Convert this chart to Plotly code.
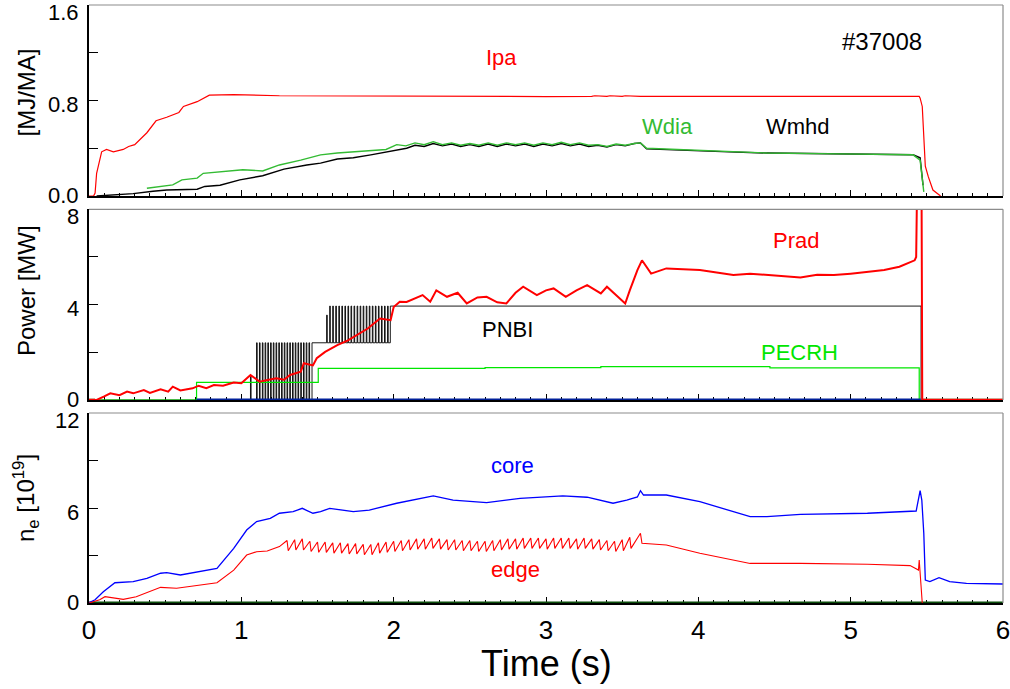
import plotly.graph_objects as go

FONT = "Liberation Sans, Arial, Helvetica, sans-serif"

# ---------------- Panel 1: Ipa [MA], Wdia / Wmhd [MJ] ----------------
ipa_t = [0.0, 0.03, 0.04, 0.05, 0.083, 0.115, 0.16, 0.225, 0.26, 0.30, 0.38, 0.44,
         0.51, 0.59, 0.62, 0.71, 0.79, 0.95, 1.25, 2.0, 3.0, 3.30, 3.32, 3.40, 3.42,
         3.50, 3.52, 3.62, 4.5, 5.0, 5.45, 5.456, 5.47, 5.49, 5.51, 5.54, 5.59]
ipa_v = [0.0, 0.0, 0.025, 0.19, 0.37, 0.39, 0.37, 0.39, 0.415, 0.43, 0.53, 0.63,
         0.66, 0.70, 0.75, 0.79, 0.845, 0.85, 0.84, 0.835, 0.833, 0.834, 0.840, 0.834, 0.840,
         0.834, 0.840, 0.835, 0.834, 0.834, 0.834, 0.82, 0.75, 0.25, 0.16, 0.05, 0.0]

wdia_t = [0.38, 0.45, 0.55, 0.61, 0.71, 0.75, 0.86, 1.01, 1.14, 1.25, 1.39, 1.52,
          1.63, 1.735, 1.85, 1.95, 2.02, 2.08, 2.14, 2.20, 2.26, 2.32, 2.38, 2.44,
          2.50, 2.56, 2.62, 2.68, 2.74, 2.80, 2.86, 2.92, 2.98, 3.04, 3.10, 3.16,
          3.22, 3.28, 3.34, 3.40, 3.46, 3.52, 3.58, 3.62, 3.66, 3.75, 4.00, 4.20,
          4.45, 4.80, 5.10, 5.41, 5.456, 5.48]
wdia_v = [0.065, 0.075, 0.093, 0.135, 0.15, 0.19, 0.205, 0.22, 0.21, 0.26, 0.30, 0.345,
          0.36, 0.37, 0.375, 0.39, 0.43, 0.42, 0.445, 0.43, 0.455, 0.43, 0.445, 0.425,
          0.44, 0.425, 0.445, 0.425, 0.445, 0.43, 0.445, 0.425, 0.445, 0.43, 0.45, 0.43,
          0.445, 0.425, 0.43, 0.415, 0.435, 0.425, 0.44, 0.445, 0.40, 0.395, 0.385, 0.375,
          0.36, 0.355, 0.35, 0.345, 0.30, 0.035]

wmhd_t = [0.05, 0.20, 0.29, 0.42, 0.51, 0.71, 0.76, 0.86, 0.99, 1.14, 1.28, 1.43,
          1.52, 1.63, 1.735, 1.85, 1.95, 2.085, 2.14, 2.20, 2.26, 2.32, 2.38, 2.44,
          2.50, 2.56, 2.62, 2.68, 2.74, 2.80, 2.86, 2.92, 2.98, 3.04, 3.10, 3.16,
          3.22, 3.28, 3.34, 3.40, 3.46, 3.52, 3.58, 3.62, 3.66, 3.75, 4.00, 4.20,
          4.45, 4.80, 5.10, 5.41, 5.456, 5.475]
wmhd_v = [0.0, 0.014, 0.02, 0.04, 0.05, 0.057, 0.08, 0.09, 0.135, 0.17, 0.225, 0.26,
          0.275, 0.31, 0.32, 0.345, 0.37, 0.40, 0.425, 0.415, 0.44, 0.42, 0.435, 0.415,
          0.43, 0.415, 0.435, 0.415, 0.435, 0.42, 0.435, 0.415, 0.435, 0.42, 0.44, 0.42,
          0.435, 0.415, 0.425, 0.41, 0.43, 0.42, 0.44, 0.445, 0.395, 0.39, 0.38, 0.37,
          0.36, 0.355, 0.35, 0.345, 0.32, 0.09]

# ---------------- Panel 2: Power [MW] ----------------
prad_t = [0.0, 0.05, 0.10, 0.14, 0.20, 0.25, 0.29, 0.36, 0.40, 0.47,
          0.52, 0.55, 0.60, 0.68, 0.72, 0.77, 0.82, 0.88, 0.95, 1.00,
          1.06, 1.12, 1.18, 1.23, 1.28, 1.32, 1.39, 1.41, 1.47, 1.495,
          1.55, 1.63, 1.70, 1.76, 1.83, 1.91, 1.98, 2.0, 2.04, 2.085,
          2.14, 2.19, 2.24, 2.28, 2.35, 2.42, 2.48, 2.55, 2.61, 2.68,
          2.74, 2.80, 2.85, 2.94, 3.00, 3.05, 3.13, 3.20, 3.27, 3.36,
          3.40, 3.46, 3.52, 3.55, 3.60, 3.63, 3.69, 3.79, 3.90, 4.01,
          4.12, 4.23, 4.34, 4.45, 4.56, 4.67, 4.78, 4.89, 5.00, 5.11,
          5.22, 5.32, 5.42, 5.43, 5.437, 5.465, 5.47, 6.0]
prad_v = [0.0, 0.0, 0.15, 0.28, 0.2, 0.35, 0.28, 0.42, 0.3, 0.45,
          0.35, 0.56, 0.4, 0.49, 0.6, 0.5, 0.63, 0.6, 0.73, 0.7,
          1.05, 0.77, 0.85, 0.91, 0.85, 1.05, 1.19, 1.54, 1.45, 1.75,
          2.02, 2.3, 2.5, 2.72, 3.0, 3.42, 3.35, 3.9, 4.12, 4.11,
          4.25, 4.4, 4.12, 4.6, 4.33, 4.5, 4.05, 4.3, 4.33, 4.1,
          4.05, 4.5, 4.75, 4.4, 4.6, 4.68, 4.33, 4.6, 4.82, 4.47,
          4.75, 4.4, 4.05, 4.6, 5.45, 5.86, 5.3, 5.52, 5.5, 5.45,
          5.35, 5.24, 5.3, 5.24, 5.2, 5.14, 5.25, 5.24, 5.3, 5.38,
          5.45, 5.59, 5.86, 6.0, 9.5, 9.5, 0.0, 0.0]

# NBI power (modulated), drawn as a step signal
pnbi_t = [0.0, 1.060, 1.064,
          1.100, 1.104, 1.119, 1.123, 1.138, 1.142, 1.156, 1.160, 1.174, 1.178,
          1.192, 1.196, 1.210, 1.214, 1.228, 1.232, 1.246, 1.250, 1.264, 1.268,
          1.282, 1.286, 1.300, 1.304, 1.318, 1.322, 1.336, 1.340, 1.354, 1.358,
          1.372, 1.376, 1.390, 1.394, 1.408, 1.412, 1.426, 1.430, 1.444, 1.448,
          1.464,
          1.560, 1.564,
          1.580, 1.584, 1.600, 1.604, 1.620, 1.624, 1.640, 1.644, 1.660, 1.664,
          1.680, 1.684, 1.700, 1.704, 1.720, 1.724, 1.740, 1.744, 1.760, 1.764,
          1.780, 1.784, 1.800, 1.804, 1.820, 1.824, 1.840, 1.844, 1.860, 1.864,
          1.880, 1.884, 1.900, 1.904, 1.920, 1.924, 1.940, 1.944, 1.960, 1.964,
          1.978, 5.462, 6.0]
pnbi_v = [0.0, 1.0, 0.0,
          2.4, 0.0, 2.4, 0.0, 2.4, 0.0, 2.4, 0.0, 2.4, 0.0,
          2.4, 0.0, 2.4, 0.0, 2.4, 0.0, 2.4, 0.0, 2.4, 0.0,
          2.4, 0.0, 2.4, 0.0, 2.4, 0.0, 2.4, 0.0, 2.4, 0.0,
          2.4, 0.0, 2.4, 0.0, 2.4, 0.0, 2.4, 0.0, 2.4, 0.0,
          2.4,
          3.56, 2.4,
          3.94, 2.4, 3.94, 2.4, 3.94, 2.4, 3.94, 2.4, 3.94, 2.4,
          3.94, 2.4, 3.94, 2.4, 3.94, 2.4, 3.94, 2.4, 3.94, 2.4,
          3.94, 2.4, 3.94, 2.4, 3.94, 2.4, 3.94, 2.4, 3.94, 2.4,
          3.94, 2.4, 3.94, 2.4, 3.94, 2.4, 3.94, 2.4, 3.94, 2.4,
          3.94, 0.0, 0.0]

pecrh_t = [0.04, 0.706, 1.505, 2.60, 3.36, 4.47, 5.45, 5.46]
pecrh_v = [0.0, 0.74, 1.33, 1.36, 1.40, 1.35, 0.0, 0.0]

zero_blue_t = [0.706, 5.46]
zero_blue_v = [0.0, 0.0]
zero_brown_t = [0.0, 0.04, None, 5.47, 6.0]
zero_brown_v = [0.0, 0.0, None, 0.0, 0.0]

# ---------------- Panel 3: n_e [10^19] ----------------
core_t = [0.0, 0.04, 0.094, 0.17, 0.29, 0.38, 0.47, 0.51, 0.60, 0.73,
          0.84, 0.95, 1.035, 1.10, 1.19, 1.25, 1.34, 1.40, 1.47, 1.52,
          1.58, 1.735, 1.84, 2.02, 2.17, 2.26, 2.39, 2.61, 2.83, 3.11,
          3.27, 3.44, 3.53, 3.60, 3.62, 3.64, 3.79, 4.01, 4.23, 4.34,
          4.45, 4.67, 5.11, 5.43, 5.456, 5.467, 5.48, 5.49, 5.52, 5.58,
          5.65, 5.76, 6.0]
core_v = [0.02, 0.2, 0.71, 1.28, 1.35, 1.56, 1.88, 1.92, 1.77, 1.98,
          2.19, 3.45, 4.61, 5.14, 5.35, 5.67, 5.77, 5.98, 5.67, 5.77,
          5.98, 5.77, 5.87, 6.3, 6.61, 6.76, 6.5, 6.34, 6.61, 6.76,
          6.68, 6.3, 6.5, 6.7, 7.09, 6.82, 6.82, 6.4, 5.77, 5.45,
          5.45, 5.6, 5.67, 5.81, 7.09, 6.5, 4.4, 1.45, 1.35, 1.6,
          1.35, 1.24, 1.2]

edge_t = [0.0, 0.07, 0.105, 0.14, 0.225, 0.31, 0.47, 0.575, 0.73, 0.84,
          0.95, 1.035, 1.10, 1.17, 1.25,
          1.300, 1.308, 1.350, 1.358, 1.400, 1.408, 1.450, 1.458, 1.500, 1.508,
          1.550, 1.558, 1.600, 1.608, 1.650, 1.658, 1.700, 1.708, 1.750, 1.758,
          1.800, 1.808, 1.850, 1.858, 1.900, 1.908, 1.950, 1.958, 2.000, 2.008,
          2.050, 2.058, 2.100, 2.108, 2.150, 2.158, 2.200, 2.208, 2.250, 2.258,
          2.300, 2.308, 2.350, 2.358, 2.400, 2.408, 2.450, 2.458, 2.500, 2.508,
          2.550, 2.558, 2.600, 2.608, 2.650, 2.658, 2.700, 2.708, 2.750, 2.758,
          2.800, 2.808, 2.850, 2.858, 2.900, 2.908, 2.950, 2.958, 3.000, 3.008,
          3.050, 3.058, 3.100, 3.108, 3.150, 3.158, 3.200, 3.208, 3.250, 3.258,
          3.300, 3.308, 3.350, 3.358, 3.400, 3.408, 3.450, 3.458, 3.500, 3.508,
          3.550, 3.558, 3.620, 3.630,
          3.79, 4.01, 4.23, 4.34, 4.67, 5.11, 5.39, 5.445, 5.45, 5.46, 5.47]
edge_v = [0.0, 0.2, 0.4, 0.36, 0.23, 0.4, 0.99, 0.93, 1.14, 1.28,
          2.08, 3.03, 3.24, 3.28, 3.56,
          3.95, 3.30, 4.00, 3.35, 4.05, 3.35, 3.90, 3.25, 3.85, 3.20,
          3.85, 3.20, 3.80, 3.15, 3.80, 3.15, 3.75, 3.10, 3.75, 3.10,
          3.70, 3.05, 3.70, 3.05, 3.80, 3.15, 3.85, 3.20, 3.90, 3.25,
          3.95, 3.30, 4.00, 3.35, 4.05, 3.40, 4.05, 3.40, 4.10, 3.45,
          4.05, 3.40, 4.00, 3.35, 4.00, 3.35, 3.95, 3.30, 3.95, 3.30,
          3.90, 3.25, 3.90, 3.25, 3.95, 3.30, 4.00, 3.35, 4.05, 3.40,
          4.05, 3.40, 4.10, 3.45, 4.10, 3.45, 4.10, 3.45, 4.05, 3.40,
          4.10, 3.45, 4.10, 3.45, 4.10, 3.45, 4.05, 3.40, 4.10, 3.45,
          4.05, 3.40, 4.00, 3.35, 3.95, 3.30, 3.90, 3.25, 4.00, 3.30,
          4.15, 3.45, 4.40, 3.77,
          3.66, 3.14, 2.72, 2.50, 2.50, 2.45, 2.36, 2.08, 2.72, 1.24, 0.0]

zero_green_t = [0.0, 6.0]
zero_green_v = [0.0, 0.0]

# ---------------- axis ticks / labels ----------------
x_ticks = [0, 1, 2, 3, 4, 5, 6]
y1_ticks = [0, 0.4, 0.8, 1.2, 1.6]
y1_labels = {0: "0.0", 0.8: "0.8", 1.6: "1.6"}
y2_ticks = [0, 2, 4, 6, 8]
y2_labels = {0: "0", 4: "4", 8: "8"}
y3_ticks = [0, 3, 6, 9, 12]
y3_labels = {0: "0", 6: "6", 12: "12"}

RED = "#ff0000"
GREEN_W = "#33bb33"
GREEN_E = "#00e600"
BLUE = "#0000ff"

fig = go.Figure()


def add(x, y, color, width, xa, ya, shape="linear"):
    fig.add_trace(go.Scatter(x=x, y=y, mode="lines",
                             line=dict(color=color, width=width, shape=shape),
                             xaxis=xa, yaxis=ya, showlegend=False,
                             hoverinfo="skip", connectgaps=False))


# panel 1
add(ipa_t, ipa_v, RED, 1.2, "x", "y")
add(wmhd_t, wmhd_v, "black", 1.4, "x", "y")
add(wdia_t, wdia_v, GREEN_W, 1.4, "x", "y")
# panel 2
add(zero_brown_t, zero_brown_v, "#a0522d", 3, "x2", "y2")
add(pnbi_t, pnbi_v, "black", 0.9, "x2", "y2", shape="hv")
add(pecrh_t, pecrh_v, GREEN_E, 1.2, "x2", "y2", shape="hv")
add(zero_blue_t, zero_blue_v, "#00209a", 3, "x2", "y2")
add(prad_t, prad_v, RED, 2.0, "x2", "y2")
# panel 3
add(zero_green_t, zero_green_v, "#0b4d0b", 3, "x3", "y3")
add(core_t, core_v, BLUE, 1.3, "x3", "y3")
add(edge_t, edge_v, RED, 1.1, "x3", "y3")

H_TOTAL = 598.0
dom3 = [0.0, 190.0 / H_TOTAL]
dom2 = [203.0 / H_TOTAL, 393.7 / H_TOTAL]
dom1 = [407.0 / H_TOTAL, 1.0]


def xax(anchor, labels):
    return dict(range=[0, 6], tickvals=x_ticks, ticks="inside", ticklen=6,
                tickwidth=1, tickcolor="black", showline=True, linecolor="black",
                linewidth=1.5, showgrid=False, zeroline=False, automargin=False,
                showticklabels=labels, anchor=anchor, domain=[0, 1],
                ticklabeloverflow="allow", ticklabelstandoff=3,
                tickfont=dict(family=FONT, size=26, color="black"),
                minor=dict(tickmode="linear", tick0=0, dtick=0.1, ticks="inside",
                           ticklen=3, tickcolor="black", showgrid=False),
                layer="below traces")


def yax(anchor, dom, rng, vals):
    return dict(range=rng, tickvals=vals, ticks="inside", ticklen=9,
                tickwidth=1, tickcolor="black", showline=True, linecolor="black",
                linewidth=1.5, showgrid=False, zeroline=False, anchor=anchor,
                automargin=False, showticklabels=False,
                domain=dom, layer="below traces")


fig.update_layout(
    template="none",
    width=1010, height=689,
    margin=dict(l=89, r=7, t=5, b=86, autoexpand=False),
    paper_bgcolor="white", plot_bgcolor="white",
    font=dict(family=FONT, color="black"),
    showlegend=False,
    xaxis=xax("y", False), xaxis2=xax("y2", False), xaxis3=xax("y3", True),
    yaxis=yax("x", dom1, [0, 1.6], y1_ticks),
    yaxis2=yax("x2", dom2, [0, 8], y2_ticks),
    yaxis3=yax("x3", dom3, [0, 12], y3_ticks),
)

# gray top/right frame lines
for dom in (dom1, dom2, dom3):
    fig.add_shape(type="line", xref="paper", yref="paper", x0=0, x1=1, y0=dom[1], y1=dom[1],
                  line=dict(color="#8c8c8c", width=1.2))
    fig.add_shape(type="line", xref="paper", yref="paper", x0=1, x1=1, y0=dom[0], y1=dom[1],
                  line=dict(color="#8c8c8c", width=1.2))

# y tick labels (placed beside the ticks, top labels nudged down as in the original)
LABEL_X = (81 - 89) / 914.0
for yref, lab, rng_top in (("y", y1_labels, 1.6), ("y2", y2_labels, 8), ("y3", y3_labels, 12)):
    for val, txt in lab.items():
        if val == 0:
            ys = 1
        elif val == rng_top:
            ys = -7
        else:
            ys = -4
        fig.add_annotation(text=txt, x=LABEL_X, y=val, xref="paper", yref=yref,
                           showarrow=False, xanchor="right", yanchor="middle", yshift=ys,
                           font=dict(family=FONT, size=22, color="black"))

# in-plot labels
labels = [
    ("Ipa", 2.705, 1.164, RED, "x", "y", 22),
    ("#37008", 5.206, 1.292, "black", "x", "y", 24),
    ("Wdia", 3.798, 0.58, GREEN_W, "x", "y", 22),
    ("Wmhd", 4.651, 0.58, "black", "x", "y", 22),
    ("Prad", 4.643, 6.71, RED, "x2", "y2", 22),
    ("PNBI", 2.744, 2.95, "black", "x2", "y2", 22),
    ("PECRH", 4.665, 1.99, GREEN_E, "x2", "y2", 22),
    ("core", 2.777, 8.68, BLUE, "x3", "y3", 22),
    ("edge", 2.797, 2.12, RED, "x3", "y3", 22),
]
for txt, x, y, col, xr, yr, sz in labels:
    fig.add_annotation(text=txt, x=x, y=y, xref=xr, yref=yr, showarrow=False,
                       xanchor="center", yanchor="middle",
                       font=dict(family=FONT, size=sz, color=col))

# axis titles
titles = [
    ("[MJ/MA]", (603 - 92.5) / H_TOTAL),
    ("Power [MW]", (603 - 291) / H_TOTAL),
    ("n<sub>e</sub> [10<sup>19</sup>]", (603 - 498) / H_TOTAL),
]
for txt, yp in titles:
    fig.add_annotation(text=txt, x=(26 - 89) / 914.0, y=yp, xref="paper", yref="paper",
                       showarrow=False, textangle=-90, xanchor="center", yanchor="middle",
                       font=dict(family=FONT, size=24, color="black"))

fig.add_annotation(text="Time (s)", x=0.5, y=(603 - 663) / H_TOTAL, xref="paper",
                   yref="paper", showarrow=False, xanchor="center", yanchor="middle",
                   font=dict(family=FONT, size=36, color="black"))

fig.write_html("out.html")
